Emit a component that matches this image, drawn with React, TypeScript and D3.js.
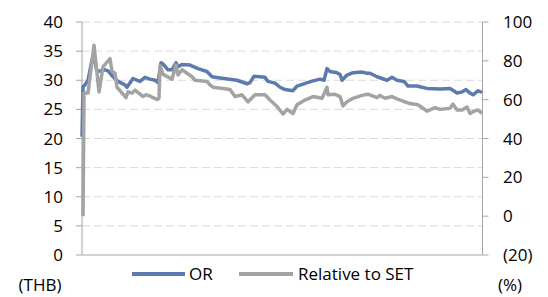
import React from "react";
import * as d3 from "d3";

// Trading-day index and OR share price (THB)
const orDays = [0, 1, 3, 6, 10, 12, 15, 18, 23, 26, 31, 36, 43, 45, 51, 58, 63, 68, 73, 76, 79, 81, 86, 90, 94, 96, 100, 108, 116, 125, 130, 138, 155, 165, 168, 172, 183, 186, 193, 198, 203, 211, 215, 224, 231, 238, 242, 245, 248, 255, 258, 260, 265, 271, 280, 285, 288, 295, 300, 305, 310, 315, 322, 326, 335, 340, 345, 358, 368, 375, 380, 384, 388, 391, 396, 400];
const orPrice = [20.3, 28.9, 29.2, 30.0, 33.5, 34.0, 31.5, 31.6, 31.8, 31.6, 30.6, 29.8, 29.2, 28.8, 30.3, 29.8, 30.5, 30.2, 30.0, 29.6, 33.0, 32.8, 31.8, 31.8, 33.0, 32.3, 32.7, 32.6, 32.0, 31.5, 30.6, 30.4, 30.0, 29.4, 29.6, 30.7, 30.5, 29.8, 29.5, 28.8, 28.4, 28.2, 29.0, 29.5, 29.9, 30.2, 30.0, 32.0, 31.5, 31.3, 31.0, 30.0, 30.9, 31.3, 31.4, 31.2, 31.2, 30.6, 30.3, 30.0, 30.5, 30.0, 29.8, 29.0, 29.0, 28.8, 28.6, 28.5, 28.6, 27.8, 28.0, 28.4, 27.8, 27.5, 28.2, 27.9];

// Trading-day index and OR price relative to SET (%)
const relDays = [1, 2, 6, 12, 17, 21, 28, 30, 33, 35, 41, 44, 46, 50, 53, 58, 61, 64, 68, 71, 75, 77, 78, 81, 90, 94, 96, 100, 105, 110, 113, 125, 128, 131, 141, 148, 153, 160, 166, 173, 183, 188, 195, 201, 205, 211, 215, 223, 231, 240, 245, 246, 253, 258, 261, 265, 271, 280, 286, 295, 298, 303, 310, 315, 321, 328, 336, 341, 345, 353, 358, 368, 371, 375, 380, 385, 388, 391, 396, 400];
const relSet = [0, 63.4, 63.4, 88, 64, 76.9, 81.1, 74.5, 73.6, 66.4, 62.8, 61, 64, 63.4, 64.9, 62.8, 61.6, 62.5, 61.9, 61, 60.1, 60.7, 77.5, 73, 70.6, 77.8, 72.7, 75.4, 73.6, 71.8, 70, 69.4, 67.6, 66.4, 65.8, 65.2, 61.6, 62.5, 58.9, 62.5, 62.5, 59.8, 56.5, 52.6, 55, 52.9, 57.4, 59.8, 61.6, 60.7, 66.4, 62.5, 62.8, 61.6, 56.8, 58.9, 60.7, 62.2, 62.8, 61, 62.2, 60.7, 61.6, 60.4, 59.2, 58, 57.4, 55.6, 54.1, 55.9, 55, 55.6, 57.7, 54.7, 54.7, 56.2, 52.9, 53.8, 54.7, 52.9];

const leftTicks = [0, 5, 10, 15, 20, 25, 30, 35, 40];
const rightTicks = [-20, 0, 20, 40, 60, 80, 100];
const seriesNames = ["OR", "Relative to SET"];

const W = 548;
const H = 297;
const X0 = 82;
const X1 = 482.5;
const YT = 22;
const YB = 255;
const BLUE = "#5b7bad";
const GREY = "#a3a3a3";
const AXIS = "#a6a6a6";
const FONT = "'Open Sans', sans-serif";

export default function App() {
  const x = d3.scaleLinear().domain([0, 400]).range([X0, X1 - 0.5]);
  const yL = d3.scaleLinear().domain([0, 40]).range([YB, YT]);
  const yR = d3.scaleLinear().domain([-20, 100]).range([YB, YT]);

  const orLine = d3
    .line<number>()
    .x((_, i) => x(orDays[i]))
    .y((d) => yL(d))(orPrice);
  const relLine = d3
    .line<number>()
    .x((_, i) => x(relDays[i]))
    .y((d) => yR(d))(relSet);

  const fmtR = (v: number) => (v < 0 ? `(${Math.abs(v)})` : `${v}`);

  return (
    <svg
      width={W}
      height={H}
      style={{ position: "absolute", left: 0, top: 0, background: "#fff" }}
      fontFamily={FONT}
    >
      {leftTicks
        .filter((t) => t > 0)
        .map((t) => (
          <line
            key={"g" + t}
            x1={X0}
            x2={X1}
            y1={yL(t)}
            y2={yL(t)}
            stroke="#d9d9d9"
            strokeWidth={1}
            strokeDasharray="8,4"
          />
        ))}
      <line x1={X0} x2={X0} y1={YT} y2={YB} stroke={AXIS} strokeWidth={1} />
      <line x1={X1} x2={X1} y1={YT} y2={YB} stroke={AXIS} strokeWidth={1} />
      <line x1={X0} x2={X1} y1={YB} y2={YB} stroke={AXIS} strokeWidth={1} />
      {leftTicks.map((t) => (
        <g key={"l" + t}>
          <line x1={X0 - 6} x2={X0} y1={yL(t)} y2={yL(t)} stroke={AXIS} />
          <text x={63} y={yL(t)} dy="0.36em" textAnchor="end" fontSize={17} fill="#000">
            {t}
          </text>
        </g>
      ))}
      {rightTicks.map((t) => (
        <g key={"r" + t}>
          <line x1={X1} x2={X1 + 6} y1={yR(t)} y2={yR(t)} stroke={AXIS} />
          <text x={503} y={yR(t)} dy="0.36em" textAnchor="start" fontSize={17} fill="#000">
            {fmtR(t)}
          </text>
        </g>
      ))}
      <path d={orLine || ""} fill="none" stroke={BLUE} strokeWidth={3.5} strokeLinejoin="round" />
      <path d={relLine || ""} fill="none" stroke={GREY} strokeWidth={3.5} strokeLinejoin="round" />

      <line x1={132} x2={185} y1={274} y2={274} stroke={BLUE} strokeWidth={4} />
      <text x={189} y={274} dy="0.36em" fontSize={17} fill="#000">
        {seriesNames[0]}
      </text>
      <line x1={239} x2={293} y1={274} y2={274} stroke={GREY} strokeWidth={4} />
      <text x={298} y={274} dy="0.36em" fontSize={17} fill="#000">
        {seriesNames[1]}
      </text>

      <text x={40} y={285} dy="0.36em" textAnchor="middle" fontSize={17} fill="#000">
        (THB)
      </text>
      <text x={510} y={285} dy="0.36em" textAnchor="middle" fontSize={17} fill="#000">
        (%)
      </text>
    </svg>
  );
}
